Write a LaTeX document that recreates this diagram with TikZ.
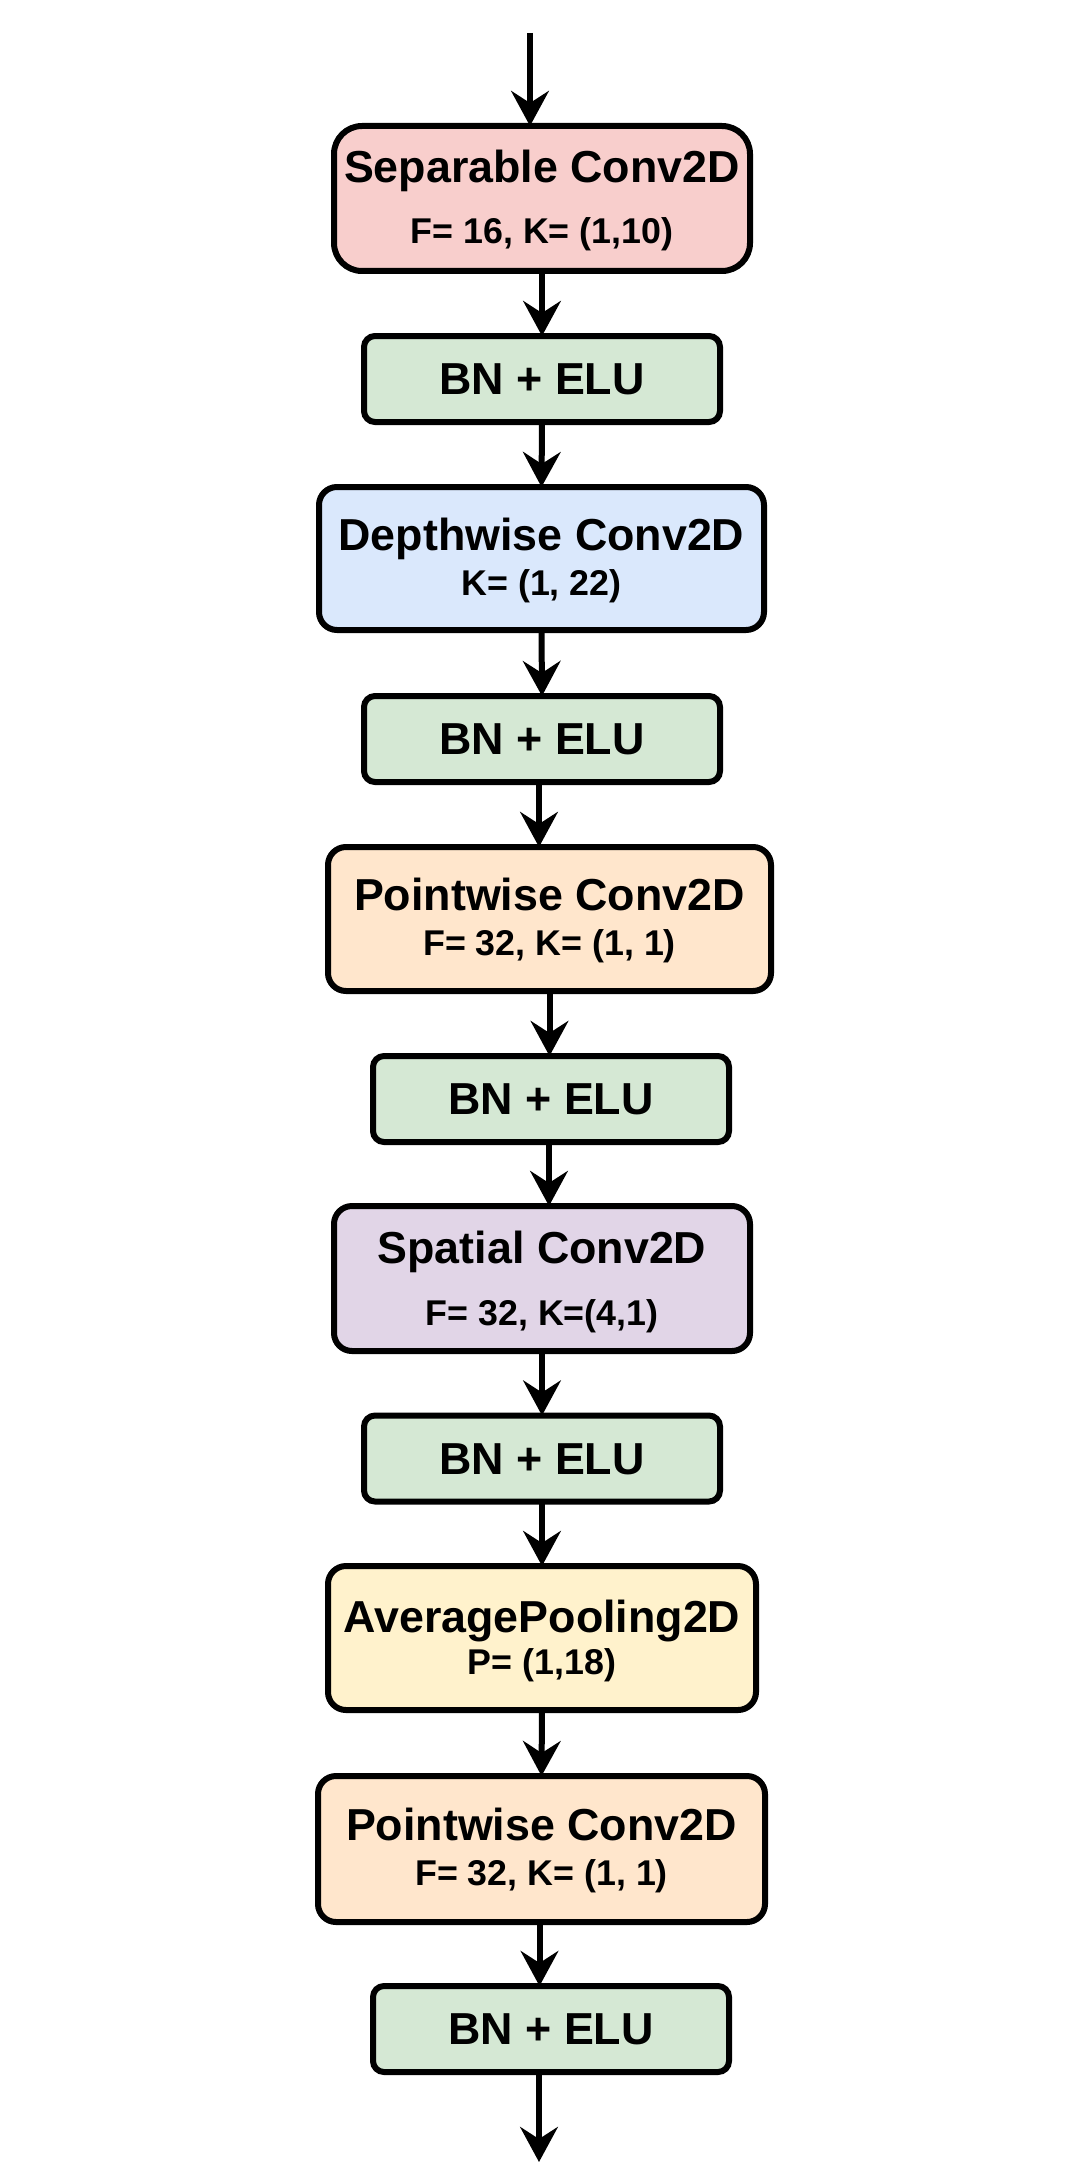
\documentclass[tikz,border=0pt]{standalone}
\usepackage{fontspec}
\setmainfont{Liberation Sans}
\usetikzlibrary{arrows.meta}
\definecolor{cred}{HTML}{F8CECC}
\definecolor{cgreen}{HTML}{D5E8D4}
\definecolor{cblue}{HTML}{DAE8FC}
\definecolor{corange}{HTML}{FFE6CC}
\definecolor{cpurple}{HTML}{E1D5E7}
\definecolor{cyellow}{HTML}{FFF2CC}
\begin{document}
\begin{tikzpicture}[x=0.5pt,y=-0.5pt,
  box/.style={draw=black, line width=3pt, inner sep=0pt, outer sep=0pt},
  bnbox/.style={box, fill=cgreen, rounded corners=5.5pt, minimum width=178pt, minimum height=43pt},
  ttl/.style={font=\fontsize{22.4}{26}\selectfont\bfseries, inner sep=0pt, anchor=base},
  subt/.style={font=\fontsize{17.9}{21}\selectfont\bfseries, inner sep=0pt, anchor=base},
  arr/.style={line width=3pt, -{Stealth[length=17.5pt, width=18.8pt, inset=6pt]}}
]
\fill[white] (0,0) rectangle (1073,2178);
\useasboundingbox (0,0) rectangle (1073,2178);

% boxes
\node[box, fill=cred, rounded corners=14pt, minimum width=208pt, minimum height=72.5pt] (sep) at (542,198.5) {};
\node[ttl] (sept) at (542,183) {Separable Conv2D};
\node[subt] (seps) at (542,244) {F= 16, K= (1,10)};

\node[bnbox] (bn1) at (542,379) {};
\node[ttl] (bn1t) at (542,394.5) {BN + ELU};

\node[box, fill=cblue, rounded corners=9pt, minimum width=222.5pt, minimum height=71.5pt] (dw) at (541.5,558.5) {};
\node[ttl] (dwt) at (541.5,550) {Depthwise Conv2D};
\node[subt] (dws) at (541.5,595) {K= (1, 22)};

\node[bnbox] (bn2) at (542,739) {};
\node[ttl] (bn2t) at (542,754.5) {BN + ELU};

\node[box, fill=corange, rounded corners=9pt, minimum width=221.5pt, minimum height=72pt] (pw1) at (549.5,919) {};
\node[ttl] (pw1t) at (549.5,910) {Pointwise Conv2D};
\node[subt] (pw1s) at (549.5,955) {F= 32, K= (1, 1)};

\node[bnbox] (bn3) at (551,1099) {};
\node[ttl] (bn3t) at (551,1114.5) {BN + ELU};

\node[box, fill=cpurple, rounded corners=9pt, minimum width=208pt, minimum height=72.5pt] (sp) at (542,1278.5) {};
\node[ttl] (spt) at (542,1263) {Spatial Conv2D};
\node[subt] (sps) at (542,1325) {F= 32, K=(4,1)};

\node[bnbox] (bn4) at (542,1458.5) {};
\node[ttl] (bn4t) at (542,1474) {BN + ELU};

\node[box, fill=cyellow, rounded corners=9pt, minimum width=214pt, minimum height=72pt] (ap) at (542,1638) {};
\node[ttl] (apt) at (542,1632) {AveragePooling2D};
\node[subt] (aps) at (542,1674) {P= (1,18)};

\node[box, fill=corange, rounded corners=9pt, minimum width=223.5pt, minimum height=73pt] (pw2) at (541.5,1849) {};
\node[ttl] (pw2t) at (541.5,1840) {Pointwise Conv2D};
\node[subt] (pw2s) at (541.5,1885) {F= 32, K= (1, 1)};

\node[bnbox] (bn5) at (551,2029) {};
\node[ttl] (bn5t) at (551,2044) {BN + ELU};

% connectors
\coordinate (in) at (530,33);
\coordinate (out) at (539,2162);
\draw[arr] (in) -- (in |- sep.north);
\draw[arr] (sep.south) -- (bn1.north);
\draw[arr] (bn1.south) -- (dw.north);
\draw[arr] (dw.south) -- (bn2.north);
\draw[arr] ([xshift=-1.5pt]bn2.south) -- ([xshift=-1.5pt]bn2.south |- pw1.north);
\draw[arr] (pw1.south) -- (pw1.south |- bn3.north);
\draw[arr] ([xshift=-1pt]bn3.south) -- ([xshift=-1pt]bn3.south |- sp.north);
\draw[arr] (sp.south) -- (bn4.north);
\draw[arr] (bn4.south) -- (ap.north);
\draw[arr] (ap.south) -- (pw2.north);
\draw[arr] ([xshift=-1pt]pw2.south) -- ([xshift=-1pt]pw2.south |- bn5.north);
\draw[arr] (out |- bn5.south) -- (out);
\end{tikzpicture}
\end{document}
